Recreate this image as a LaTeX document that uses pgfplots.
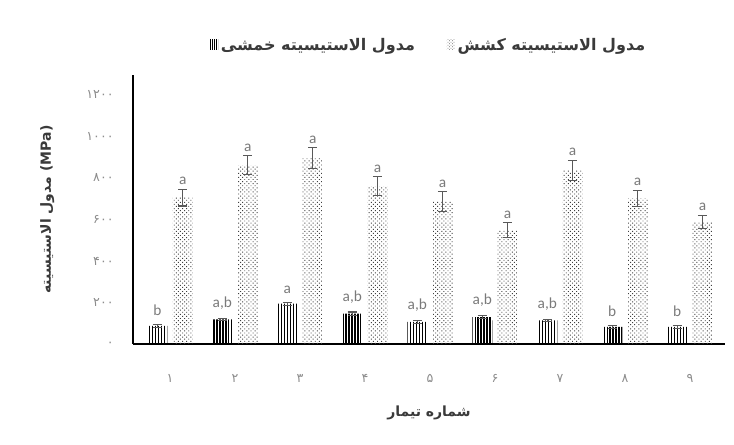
\documentclass[border=0pt]{standalone}
\usepackage{fontspec}
\setmainfont{Carlito}
\newfontfamily\fa[Script=Arabic]{DejaVu Sans}
\TeXXeTstate=1
\usepackage{pgfplots}
\pgfplotsset{compat=1.18}
\usepackage{pgfplotstable}
\usetikzlibrary{patterns.meta}
\definecolor{txt}{HTML}{3A3A3A}
\definecolor{tickc}{HTML}{8C8C8C}
\definecolor{labc}{HTML}{7A7A7A}
\definecolor{errc}{HTML}{595959}

\pgfplotstableread{
x s se sl d de dl
1 87 8 b 705 40 a
2 119 6 a,b 861 45 a
3 194 8 a 895 50 a
4 146 8 a,b 761 45 a
5 107 6 a,b 686 47 a
6 130 8 a,b 549 35 a
7 114 6 a,b 837 48 a
8 82 6 b 702 39 a
9 82 6 b 589 32 a
}\data

\begin{document}
\begin{tikzpicture}
\path[use as bounding box] (-99.75pt,-75.75pt) rectangle (450.75pt,258pt);
\begin{axis}[
  at={(0,0)}, anchor=south west, scale only axis,
  width=444pt, height=201.75pt,
  xmin=0.43, xmax=9.54, ymin=0, ymax=1296,
  axis lines=left, axis line style={line width=1.5pt, -, black},
  xtick={1,2,3,4,5,6,7,8,9},
  xticklabels={۱,۲,۳,۴,۵,۶,۷,۸,۹},
  ytick={0,200,400,600,800,1000,1200},
  yticklabels={۰,۲۰۰,۴۰۰,۶۰۰,۸۰۰,۱۰۰۰,۱۲۰۰},
  major tick length=0pt, tick style={draw=none},
  ticklabel style={font=\fa\fontsize{9.5}{10}\selectfont, text=tickc},
  xticklabel style={yshift=-19pt},
  yticklabel style={xshift=-11pt},
  ylabel={\fa\bfseries\beginR مدول الاستیسیته\endR\ (MPa)},
  ylabel style={font=\fontsize{10.5}{12}\selectfont, text=txt, at={(axis description cs:-0.145,0.5)}, anchor=center},
  xlabel={\fa\bfseries\beginR شماره تیمار\endR},
  xlabel style={font=\fontsize{10.5}{12}\selectfont, text=txt, at={(axis description cs:0.5,-0.2577)}, anchor=center},
  ybar, bar width=15pt,
  legend columns=2,
  legend style={at={(0.5,1.1115)}, anchor=center, draw=none, fill=none,
    font=\fa\bfseries\fontsize{12}{14}\selectfont, text=txt,
    /tikz/every even column/.append style={column sep=22pt}},
  legend cell align=left,
  point meta=explicit symbolic,
  nodes near coords,
  every node near coord/.append style={font=\fontsize{11.5}{12}\selectfont, text=labc, inner sep=1.5pt},
]
\addplot[bar shift=-9.5pt, draw=none,
  pattern={Lines[angle=90,distance=2.2pt,line width=1pt]}, pattern color=black,
  legend image code/.code={\fill[pattern={Lines[angle=90,distance=1.5pt,line width=0.6pt]}, pattern color=black] (0pt,-3pt) rectangle (6pt,4pt);},
  visualization depends on={\thisrow{se} \as \err},
  every node near coord/.append style={shift={(axis direction cs:0,\err)}, yshift=5pt},
  error bars/.cd, y dir=both, y explicit,
  error bar style={line width=0.8pt, color=errc},
  error mark options={rotate=90, mark size=3.5pt, line width=0.8pt, color=errc}]
  table[x=x, y=s, y error=se, meta=sl] {\data};
\addlegendentry{\beginR مدول الاستیسیته خمشی\endR}
\addplot[bar shift=9.5pt, draw=none,
  pattern={Dots[distance=2.2pt,radius=0.5pt,angle=45]}, pattern color=black!75,
  legend image code/.code={\fill[pattern={Dots[distance=1.6pt,radius=0.4pt,angle=45]}, pattern color=black!60] (0pt,-3pt) rectangle (6pt,4pt);},
  visualization depends on={\thisrow{de} \as \err},
  every node near coord/.append style={shift={(axis direction cs:0,\err)}, yshift=1.5pt},
  error bars/.cd, y dir=both, y explicit,
  error bar style={line width=0.8pt, color=errc},
  error mark options={rotate=90, mark size=3.5pt, line width=0.8pt, color=errc}]
  table[x=x, y=d, y error=de, meta=dl] {\data};
\addlegendentry{\beginR مدول الاستیسیته کشش\endR}
\end{axis}
\end{tikzpicture}
\end{document}
